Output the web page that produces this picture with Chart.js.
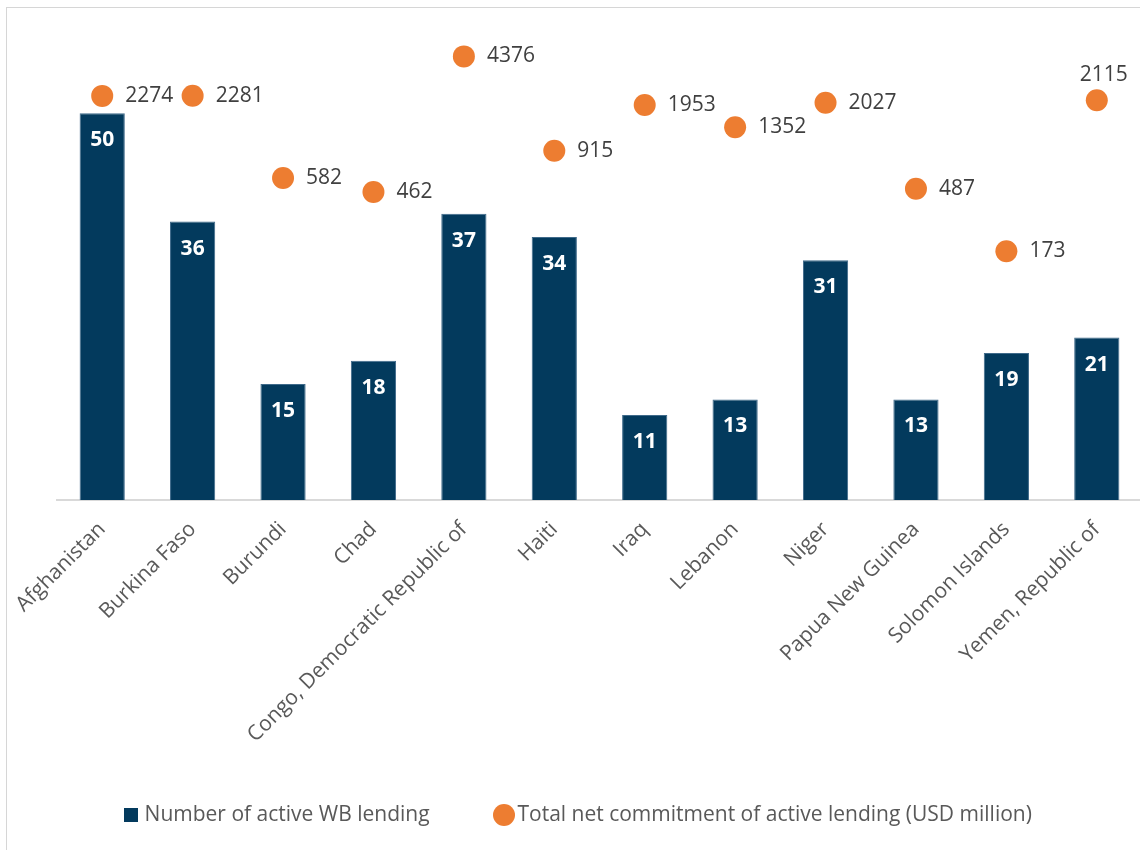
<!DOCTYPE html>
<html>
<head>
<meta charset="utf-8">
<script src="https://cdn.jsdelivr.net/npm/chart.js@4.4.0/dist/chart.umd.min.js"></script>
<style>
  html, body { margin: 0; padding: 0; background: #fff; overflow: hidden; }
  #wrap { position: relative; width: 1140px; height: 850px; overflow: hidden; }
  #frame { position: absolute; left: 6px; top: 7px; width: 1200px; height: 900px;
           border-top: 1px solid #d6d6d6; border-left: 1px solid #d6d6d6; pointer-events: none; }
  canvas { position: absolute; left: 0; top: 0; }
</style>
</head>
<body>
<div id="wrap">
  <canvas id="chart" width="1160" height="850"></canvas>
  <div id="frame"></div>
</div>
<script>
const countries = ['Afghanistan', 'Burkina Faso', 'Burundi', 'Chad', 'Congo, Democratic Republic of',
  'Haiti', 'Iraq', 'Lebanon', 'Niger', 'Papua New Guinea', 'Solomon Islands', 'Yemen, Republic of'];
const activeLending = [50, 36, 15, 18, 37, 34, 11, 13, 31, 13, 19, 21];
const netCommitment = [2274, 2281, 582, 462, 4376, 915, 1953, 1352, 2027, 487, 173, 2115];

const navy = '#033A5D';
const orange = '#ED7D31';

Chart.defaults.font.family = "'Open Sans', sans-serif";

// small canvases used as legend markers (square is smaller than the dot)
function marker(shape, size, color) {
  const c = document.createElement('canvas');
  c.width = size; c.height = size;
  const g = c.getContext('2d');
  g.fillStyle = color;
  if (shape === 'circle') {
    g.beginPath();
    g.arc(size / 2, size / 2, size / 2, 0, Math.PI * 2);
    g.fill();
  } else {
    g.fillRect(0, 0, size, size);
  }
  return c;
}
const squareMark = marker('rect', 14, navy);
const dotMark = marker('circle', 22, orange);

// value labels: white inside the bars, grey to the right of the dots
const valueLabels = {
  id: 'valueLabels',
  afterDatasetsDraw(chart) {
    const ctx = chart.ctx;
    ctx.save();
    ctx.textBaseline = 'middle';
    chart.getDatasetMeta(0).data.forEach((bar, i) => {
      ctx.font = "bold 21px 'Open Sans'";
      ctx.fillStyle = '#ffffff';
      ctx.textAlign = 'center';
      ctx.fillText(activeLending[i], bar.x, bar.y + 27);
    });
    chart.getDatasetMeta(1).data.forEach((pt, i) => {
      const txt = String(netCommitment[i]);
      ctx.font = "21px 'Open Sans'";
      ctx.fillStyle = '#404040';
      const w = ctx.measureText(txt).width;
      if (pt.x + 23 + w > 1138) {
        ctx.textAlign = 'center';
        ctx.fillText(txt, pt.x + 7, pt.y - 25);
      } else {
        ctx.textAlign = 'left';
        ctx.fillText(txt, pt.x + 23, pt.y);
      }
    });
    ctx.restore();
  }
};

new Chart(document.getElementById('chart'), {
  type: 'bar',
  data: {
    labels: countries,
    datasets: [
      {
        label: 'Number of active WB lending',
        data: activeLending,
        backgroundColor: navy,
        borderColor: '#3F6A8A',
        borderWidth: { left: 1, right: 1, top: 1, bottom: 0 },
        categoryPercentage: 1,
        barPercentage: 0.5,
        yAxisID: 'y'
      },
      {
        type: 'line',
        label: 'Total net commitment of active lending (USD million)',
        data: netCommitment,
        showLine: false,
        pointRadius: 11,
        pointHoverRadius: 11,
        pointBorderWidth: 0,
        pointBackgroundColor: orange,
        borderColor: orange,
        yAxisID: 'y2'
      }
    ]
  },
  options: {
    responsive: false,
    animation: false,
    layout: { padding: { top: 36, bottom: 14.5, left: 0, right: 0 } },
    scales: {
      x: {
        grid: { display: false },
        border: { display: true, color: '#d9d9d9', width: 2 },
        ticks: {
          color: '#595959',
          font: { size: 21 },
          minRotation: 45,
          maxRotation: 45,
          autoSkip: false,
          padding: 9
        },
        // tall enough that the long rotated label is not clipped
        afterFit(s) { s.height = 255; }
      },
      y: {
        position: 'left',
        min: 0,
        max: 60,
        grid: { display: false },
        border: { display: false },
        ticks: { display: false },
        afterFit(s) { s.width = 57; }
      },
      y2: {
        type: 'logarithmic',
        position: 'right',
        min: 2.8,
        max: 6137,
        grid: { display: false },
        border: { display: false },
        ticks: { display: false },
        afterFit(s) { s.width = 18; }
      }
    },
    plugins: {
      tooltip: { enabled: false },
      legend: {
        position: 'bottom',
        labels: {
          color: '#595959',
          font: { size: 21 },
          usePointStyle: true,
          boxWidth: 6,
          padding: 49.5,
          generateLabels(chart) {
            const items = Chart.defaults.plugins.legend.labels.generateLabels(chart);
            items[0].pointStyle = squareMark;
            items[0].text += '\u00a0\u00a0\u00a0\u00a0';
            items[1].pointStyle = dotMark;
            return items;
          }
        }
      }
    }
  },
  plugins: [valueLabels]
});
</script>
</body>
</html>
